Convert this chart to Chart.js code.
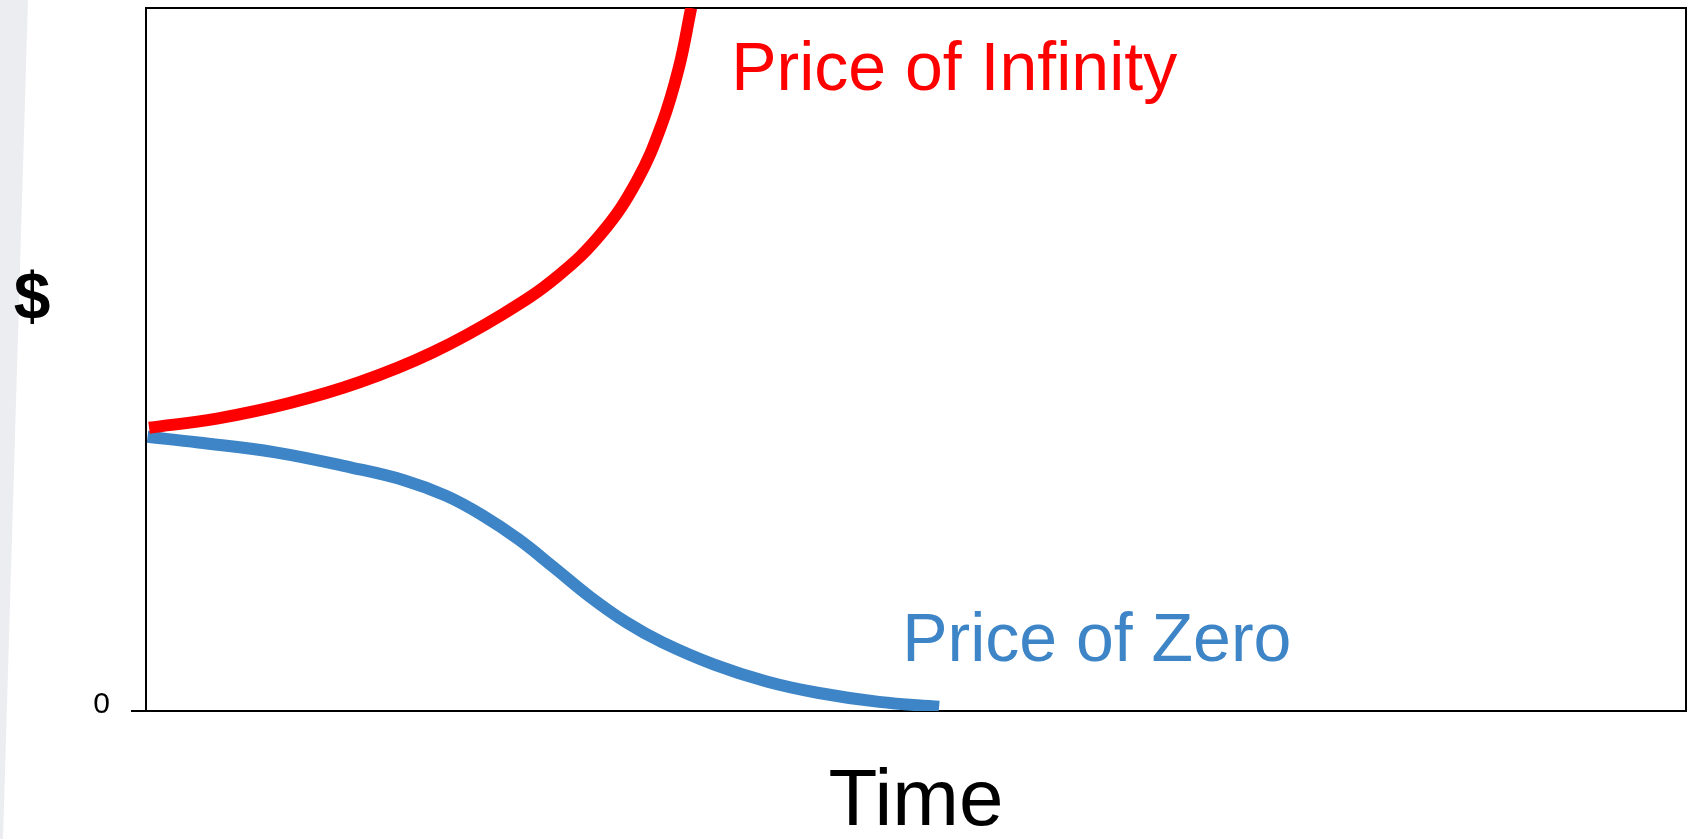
<!DOCTYPE html>
<html>
<head>
<meta charset="utf-8">
<script src="https://cdn.jsdelivr.net/npm/chart.js@4.4.1/dist/chart.umd.min.js"></script>
<style>
  body { margin: 0; background: #fff; }
  #wrap { position: relative; width: 1694px; height: 839px; }
  #band {
    position: absolute; left: 0; top: 0; width: 40px; height: 839px;
    background: #ecedf0;
    clip-path: polygon(0 0, 28px 0, 3px 839px, 0 839px);
  }
  #myChart { position: absolute; left: 0; top: 0; }
</style>
</head>
<body>
<div id="wrap">
  <div id="band"></div>
  <canvas id="myChart" width="1694" height="839"></canvas>
</div>
<script>
  // time axis runs 0..100, price axis 0..100 (only 0 is labelled)
  const infinityX = [0.2, 4.6, 9.3, 13.9, 18.6, 23.2, 26.7, 29.6, 31.9, 33.5, 34.6, 35.4];
  const infinityY = [40.3, 41.6, 43.8, 46.8, 51.0, 56.5, 61.8, 68.0, 75.5, 83.5, 91.5, 100];

  const zeroX = [0.1, 3.4, 8.4, 13.4, 16.8, 19.5, 21.8, 24.2, 26.5, 28.8, 31.2, 33.5, 36.9, 40.3, 43.6, 47.6, 51.5];
  const zeroY = [39.0, 38.2, 36.8, 34.6, 32.8, 30.6, 27.9, 24.4, 20.4, 16.3, 12.6, 9.8, 6.6, 4.2, 2.6, 1.3, 0.6];

  const yTicks = [0];

  // curve labels: text, left edge (time), baseline (price)
  const noteText = ['Price of Infinity', 'Price of Zero'];
  const noteX = [38.0, 49.1];
  const noteY = [88.4, 7.1];

  const yLabel = '$';
  const yLabelAt = 58.3;

  const font = "'Liberation Sans', Arial, sans-serif";
  const red = '#ff0000';
  const blue = '#3d85c6';

  const toPoints = (xs, ys) => xs.map((x, i) => ({ x: x, y: ys[i] }));

  const notes = {
    id: 'notes',
    afterDatasetsDraw(chart) {
      const ctx = chart.ctx;
      const xs = chart.scales.x, ys = chart.scales.y;
      const colors = [red, blue];
      ctx.save();
      ctx.font = '68px ' + font;
      ctx.textAlign = 'left';
      ctx.textBaseline = 'alphabetic';
      noteText.forEach((t, i) => {
        ctx.fillStyle = colors[i];
        ctx.fillText(t, xs.getPixelForValue(noteX[i]), ys.getPixelForValue(noteY[i]));
      });
      ctx.font = 'bold 66px ' + font;
      ctx.fillStyle = '#000';
      ctx.textAlign = 'center';
      ctx.textBaseline = 'middle';
      ctx.fillText(yLabel, 32, ys.getPixelForValue(yLabelAt));
      ctx.restore();
    }
  };

  const edge = { display: true, color: '#000', width: 2 };

  const config = {
    type: 'line',
    data: {
      datasets: [{
        label: 'Price of Infinity',
        data: toPoints(infinityX, infinityY),
        borderColor: red,
        borderWidth: 12,
        pointRadius: 0,
        tension: 0.4,
      },
      {
        label: 'Price of Zero',
        data: toPoints(zeroX, zeroY),
        borderColor: blue,
        borderWidth: 12,
        pointRadius: 0,
        tension: 0.4,
      }]
    },
    options: {
      responsive: false,
      devicePixelRatio: 1,
      animation: false,
      layout: { padding: 0 },
      plugins: { legend: { display: false }, tooltip: { enabled: false } },
      scales: {
        x: {
          type: 'linear', position: 'bottom', min: 0, max: 100,
          ticks: { display: false },
          grid: { display: false },
          border: edge,
          title: {
            display: true, text: 'Time', color: '#000',
            font: { family: font, size: 80, lineHeight: 0.9 },
            padding: 0
          },
          afterFit(s) { s.height = 128; }
        },
        y: {
          type: 'linear', position: 'left', min: 0, max: 100,
          afterBuildTicks(s) { s.ticks = yTicks.map(v => ({ value: v })); },
          ticks: {
            color: '#000', padding: 21, labelOffset: -6,
            font: { family: font, size: 30 }
          },
          grid: { drawOnChartArea: false, color: '#000', lineWidth: 2, tickLength: 15 },
          border: edge,
          afterFit(s) { s.width = 146; s.paddingTop = 0; s.paddingBottom = 0; }
        },
        x2: {
          type: 'linear', position: 'top', min: 0, max: 100,
          ticks: { display: false }, grid: { display: false }, border: edge,
          afterFit(s) { s.height = 8; }
        },
        y2: {
          type: 'linear', position: 'right', min: 0, max: 100,
          ticks: { display: false }, grid: { display: false }, border: edge,
          afterFit(s) { s.width = 8; s.paddingTop = 0; s.paddingBottom = 0; }
        }
      }
    },
    plugins: [notes]
  };

  const myChart = new Chart(document.getElementById('myChart'), config);
</script>
</body>
</html>
